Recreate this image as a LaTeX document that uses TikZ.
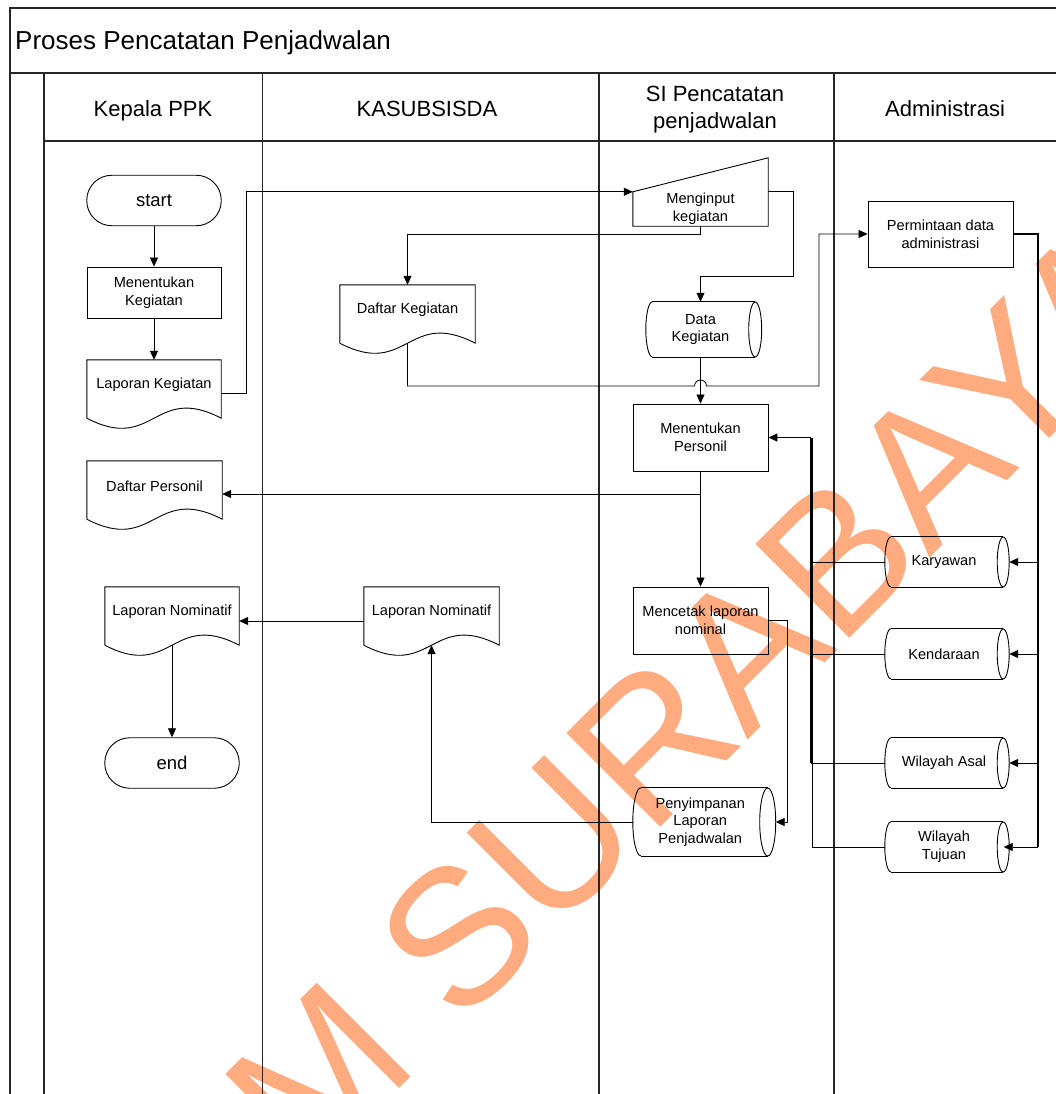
\documentclass[tikz,border=0pt]{standalone}
\usepackage{fontspec}
\setmainfont{Liberation Sans}
\usetikzlibrary{arrows.meta,calc}

\definecolor{wmark}{RGB}{255,171,128}
\newcommand\fcsmall{\fontsize{14.6}{17.7}\selectfont}

% document symbol: straight sides, wavy bottom
\newcommand\fcdoc[1]{%
  \draw[shapeline] ($(#1.south west)+(0,8)$) -- (#1.north west) -- (#1.north east)
    -- ($(#1.south east)+(0,8)$)
    .. controls ($(#1.south)+(0,-27)$) and ($(#1.south)+(0,43)$) .. ($(#1.south west)+(0,8)$);}
% stored data symbol: left half arc, right full ellipse
\newcommand\fcstore[3]{%
  \draw[shapeline] ($(#1.north west)+(#2,0)$) -- (#1.north east);
  \draw[shapeline] ($(#1.south west)+(#2,0)$) -- (#1.south east);
  \draw[shapeline] ($(#1.north west)+(#2,0)$) arc[start angle=90,end angle=270,x radius=#2pt,y radius=#3pt];
  \draw[shapeline] (#1.east) ellipse[x radius=#2pt,y radius=#3pt];}
% manual input symbol: sloping top edge
\newcommand\fcmanual[2]{%
  \draw[shapeline] (#1.south west) -- (#1.north west) -- ($(#1.north east)+(0,-#2)$)
    -- (#1.south east) -- cycle;}

\tikzset{
  lane/.style={line width=1.1pt, draw=black!85},
  shapeline/.style={line width=0.9pt},
  conn/.style={line width=0.8pt},
  arr/.style={conn, -{Triangle[length=9pt,width=8pt]}},
  busline/.style={line width=1.6pt},
  base node/.style={inner sep=0pt, align=center, font=\fcsmall},
  procbox/.style={base node, draw, line width=0.9pt},
  termnode/.style={base node, draw, line width=0.9pt, rounded corners=25pt,
    minimum width=134.5pt, minimum height=50.5pt, font=\fontsize{18.5}{22}\selectfont},
  docnode/.style={base node, minimum height=50pt},
  storenode/.style={base node},
  manualnode/.style={base node},
  hdr/.style={inner sep=0pt, align=center, font=\fontsize{22}{26.7}\selectfont},
}

\begin{document}
\begin{tikzpicture}[x=1pt,y=-1pt]
\useasboundingbox (0,0) rectangle (1056,1094);
\clip (0,0) rectangle (1056,1094);

% watermark
\node[anchor=base west, rotate=45, inner sep=0pt, text=wmark,
      font=\fontsize{193}{193}\selectfont] (wm) at (308,1180) {M SURABAYA};

% pool frame and lanes
\draw[lane] (10,1100) -- (10,8) -- (1060,8);
\draw[lane] (10,73) -- (1060,73);
\draw[lane] (44,73) -- (44,1100);
\draw[lane] (44,141) -- (1060,141);
\draw[lane] (262.5,73) -- (262.5,1100);
\draw[lane] (599,73) -- (599,1100);
\draw[lane] (834,73) -- (834,1100);

\node[anchor=base west, inner sep=0pt, font=\fontsize{26}{30}\selectfont] (title) at (15,50) {Proses Pencatatan Penjadwalan};
\node[hdr, anchor=base] (h1) at (153,116.7) {Kepala PPK};
\node[hdr, anchor=base] (h2) at (427,116.7) {KASUBSISDA};
\node[hdr] (h3) at (715,109.4) {SI Pencatatan\\penjadwalan};
\node[hdr, anchor=base] (h4) at (945,116.7) {Administrasi};

% Kepala PPK
\node[termnode] (start) at (154,200.5) {start};
\node[procbox, minimum width=134pt, minimum height=51pt] (mk) at (154,292.5) {Menentukan\\Kegiatan};
\node[docnode, minimum width=134pt] (lk) at (154,385) {Laporan Kegiatan};
\node[docnode, minimum width=135pt] (dp) at (154.5,486) {Daftar Personil};
\node[docnode, minimum width=134pt] (lnp) at (172,612) {Laporan Nominatif};
\node[termnode] (endn) at (172,763) {end};

% KASUBSISDA
\node[docnode, minimum width=135pt] (dkg) at (407.5,310) {Daftar Kegiatan};
\node[docnode, minimum width=135pt] (lnk) at (431.5,612) {Laporan Nominatif};

% SI Pencatatan penjadwalan
\node[manualnode, minimum width=135pt, minimum height=34pt] (mi) at (700.5,209) {Menginput\\kegiatan};
\node[storenode, minimum width=109pt, minimum height=55pt] (dk) at (700.5,329.5) {Data\\Kegiatan};
\node[procbox, minimum width=135pt, minimum height=67pt] (mp) at (700.5,437.5) {Menentukan\\Personil};
\node[procbox, minimum width=135pt, minimum height=67pt] (mcn) at (700.5,620.5) {Mencetak laporan\\nominal};
\node[storenode, minimum width=134.5pt, minimum height=68pt] (pen) at (700.25,822) {Penyimpanan\\Laporan\\Penjadwalan};

% Administrasi
\node[procbox, minimum width=145pt, minimum height=66pt] (pda) at (940.5,234) {Permintaan data\\administrasi};
\node[storenode, minimum width=118pt, minimum height=50pt] (kar) at (944,562) {Karyawan};
\node[storenode, minimum width=118pt, minimum height=50pt] (ken) at (944,654) {Kendaraan};
\node[storenode, minimum width=118pt, minimum height=50pt] (wa) at (944,763) {Wilayah Asal};
\node[storenode, minimum width=118pt, minimum height=50pt] (wt) at (944,847) {Wilayah\\Tujuan};

% symbol outlines
\fcdoc{lk}\fcdoc{dp}\fcdoc{lnp}\fcdoc{dkg}\fcdoc{lnk}
\fcmanual{mi}{34}
\fcstore{dk}{6.5}{27.5}
\fcstore{pen}{8}{34}
\fcstore{kar}{6}{25}\fcstore{ken}{6}{25}\fcstore{wa}{6}{25}\fcstore{wt}{6}{25}

% connectors
\coordinate (rbus) at (1038,234);
\coordinate (lbus) at (811,437.5);
\coordinate (dpin) at ($(dp.east)+(0,8)$);

\draw[arr] (start.south) -- (mk.north);
\draw[arr] (mk.south) -- (lk.north);
\draw[arr] ($(lk.east)+(0,8)$) -- ++(25,0) |- (mi.north west);
\draw[arr] (mi.north east) -- ++(25,0) -- ++(0,85) -| (dk.north);
\draw[arr] (mi.south) -- ++(0,8) -| (dkg.north);
\draw[arr] ($(dkg.south)+(0,8)$) |- (694.5,386)
  arc[start angle=180,end angle=0,radius=6pt] -- (819,386) |- (pda.west);
\draw[arr] (dk.south) -- (mp.north);

\draw[busline] (pda.east) -- (rbus) -- (rbus |- wt.east);
\draw[arr] (rbus |- kar.east) -- ($(kar.east)+(6,0)$);
\draw[arr] (rbus |- ken.east) -- ($(ken.east)+(6,0)$);
\draw[arr] (rbus |- wa.east) -- ($(wa.east)+(6,0)$);
\draw[arr] (rbus |- wt.east) -- ($(wt.east)+(0.5,0)$);

\draw[conn] (wt.west) -| ([xshift=1.2pt]lbus);
\draw[conn] (wa.west) -| (lbus);
\draw[conn] (ken.west) -| (lbus);
\draw[conn] (kar.west) -| (lbus);
\draw[busline, line width=1.5pt] (lbus |- wa.west) -- (lbus);
\draw[arr, line width=1.5pt] (lbus) -- (mp.east);

\draw[arr] (mp.south) -- (mcn.north);
\draw[arr] (mp.south |- dpin) -- (dpin);
\draw[arr] (mcn.east) -- ++(19,0) |- ($(pen.east)+(8,0)$);
\draw[arr] (pen.west) -| ($(lnk.south)+(0,8)$);
\draw[arr] ($(lnk.west)+(0,9)$) -- ($(lnp.east)+(0,9)$);
\draw[arr] ($(lnp.south)+(0,8)$) -- (endn.north);
\end{tikzpicture}
\end{document}
